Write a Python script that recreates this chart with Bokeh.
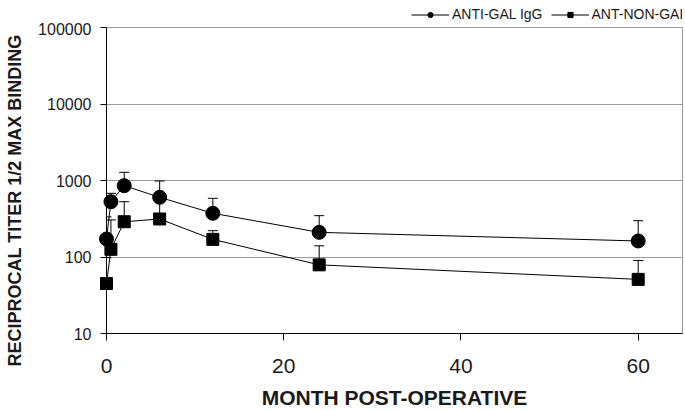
from bokeh.plotting import figure
from bokeh.layouts import column
from bokeh.models import (Range1d, FixedTicker, NumeralTickFormatter, Whisker, ColumnDataSource,
                          TeeHead, Legend, LegendItem, Title)
from bokeh.embed import file_html
from bokeh.resources import INLINE

# ---- data ----
months = [0, 0.5, 2, 6, 12, 24, 60]
anti_gal = [172, 528, 855, 603, 373, 210, 162]
anti_gal_upper = [335, 680, 1280, 985, 585, 347, 298]
anti_nongal = [45, 126, 289, 314, 170, 79, 51]
anti_nongal_upper = [98, 305, 528, 600, 221, 140, 90]

x_ticks = [0, 20, 40, 60]
y_ticks = [10, 100, 1000, 10000, 100000]
series_names = ["ANTI-GAL IgG", "ANT-NON-GAL IgG"]
x_title = "MONTH POST-OPERATIVE"
y_title = "RECIPROCAL TITER 1/2 MAX BINDING"

FONT = "Liberation Sans"

p = figure(width=685, height=389, output_backend="svg", toolbar_location=None,
           y_axis_type="log", x_range=Range1d(0, 65), y_range=Range1d(10, 100000),
           min_border_left=106, min_border_right=3, min_border_top=5, min_border_bottom=78)
p.background_fill_color = "white"
p.border_fill_color = "white"
p.outline_line_color = "#9a9a9a"
p.outline_line_width = 1

# grid
p.xgrid.visible = False
p.ygrid.ticker = FixedTicker(ticks=y_ticks)
p.ygrid.grid_line_color = "#9a9a9a"
p.ygrid.grid_line_width = 1

# axes
xa = p.xaxis[0]
xa.ticker = FixedTicker(ticks=x_ticks)
xa.axis_line_color = "black"
xa.major_tick_line_color = "black"
xa.major_tick_out = 7
xa.major_tick_in = 0
xa.minor_tick_line_color = None
xa.major_label_text_font = FONT
xa.major_label_text_font_size = "21px"
xa.major_label_text_color = "#1a1a1a"
xa.major_label_standoff = 18
xa.axis_label = x_title
xa.axis_label_text_font = FONT
xa.axis_label_text_font_size = "21px"
xa.axis_label_text_font_style = "bold"
xa.axis_label_text_color = "#1a1a1a"
xa.axis_label_standoff = 10

ya = p.yaxis[0]
ya.ticker = FixedTicker(ticks=y_ticks)
ya.formatter = NumeralTickFormatter(format="0")
ya.axis_line_color = "black"
ya.major_tick_line_color = "black"
ya.major_tick_out = 6
ya.major_tick_in = 0
ya.minor_tick_line_color = None
ya.major_label_text_font = FONT
ya.major_label_text_font_size = "16px"
ya.major_label_text_color = "#1a1a1a"
ya.major_label_standoff = 9
ya.axis_label = " "
ya.axis_label_text_font_size = "7px"
ya.axis_label_standoff = 1

p.add_layout(Title(text=y_title, text_font=FONT, text_font_size="18px", text_font_style="bold",
                   text_color="#1a1a1a", align="left", offset=-33, standoff=0), "left")

# error bars (upper only)
src_a = ColumnDataSource(dict(x=months, y=anti_gal, up=anti_gal_upper))
src_b = ColumnDataSource(dict(x=months, y=anti_nongal, up=anti_nongal_upper))
for src in (src_a, src_b):
    w = Whisker(base="x", lower="y", upper="up", source=src, level="overlay",
                line_color="black", line_width=1,
                upper_head=TeeHead(size=10, line_color="black", line_width=1),
                lower_head=None)
    p.add_layout(w)

# lines and markers
la = p.line("x", "y", source=src_a, line_color="black", line_width=1)
lb = p.line("x", "y", source=src_b, line_color="black", line_width=1)
ma = p.scatter("x", "y", source=src_a, marker="circle", size=14, fill_color="black", line_color="black")
mb = p.scatter("x", "y", source=src_b, marker="square", size=12, fill_color="black", line_color="black")
for r in (la, lb, ma, mb):
    r.level = "overlay"

# legend strip above the chart; its series renderers lie outside its (empty) view,
# only their legend glyphs are shown
lg = figure(width=685, height=22, output_backend="svg", toolbar_location=None,
            x_axis_location=None, y_axis_location=None,
            x_range=Range1d(0, 65), y_range=Range1d(-2, -1),
            min_border_left=0, min_border_right=0, min_border_top=0, min_border_bottom=0)
lg.outline_line_color = None
lg.xgrid.visible = False
lg.ygrid.visible = False
lla = lg.line("x", "y", source=src_a, line_color="black", line_width=1)
lma = lg.scatter("x", "y", source=src_a, marker="circle", size=6, fill_color="black", line_color="black")
llb = lg.line("x", "y", source=src_b, line_color="black", line_width=1)
lmb = lg.scatter("x", "y", source=src_b, marker="square", size=6, fill_color="black", line_color="black")
legend = Legend(items=[LegendItem(label=series_names[0], renderers=[lla, lma]),
                       LegendItem(label=series_names[1], renderers=[llb, lmb])],
                orientation="horizontal", location=(305, 0),
                label_text_font=FONT, label_text_font_size="14px", label_text_color="#1a1a1a",
                glyph_width=38, glyph_height=13, label_height=13, label_standoff=3,
                spacing=8, padding=0, margin=0, border_line_color=None,
                background_fill_alpha=0)
lg.add_layout(legend, "center")

layout = column(lg, p, spacing=0)
open("out.html", "w").write(file_html(layout, INLINE))
